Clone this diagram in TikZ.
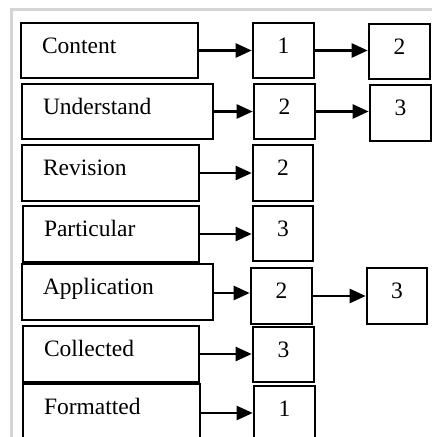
\documentclass[tikz,border=0pt]{standalone}
\usepackage{fontspec}
\setmainfont{Liberation Serif}
\usetikzlibrary{arrows.meta}

\tikzset{
  labelbox/.style={draw, line width=2.6pt, minimum height=55pt, inner sep=0pt,
    font=\fontsize{23.5}{28}\selectfont, text height=0.75em, text depth=0.2em,
    align=left, inner xsep=21pt},
  numbox/.style={draw, line width=2.6pt, minimum width=61pt, minimum height=55pt,
    inner sep=0pt, font=\fontsize{23.5}{28}\selectfont, text height=0.75em, text depth=0.2em},
  link/.style={line width=2.4pt, -{Triangle[length=16pt,width=14pt]}},
  frame/.style={draw=black!17, line width=3pt}
}

\begin{document}
\begin{tikzpicture}[x=1pt,y=1pt]
  \useasboundingbox (0,0) rectangle (432,437);
  \clip (0,0) rectangle (432,437);

  % outer light frame
  \draw[frame] (11,0) -- (11,427) -- (432,427);

  % category boxes (text starts near the left edge)
  \node[labelbox, minimum width=177pt, text width=135pt] (cont) at (109.5,386.5) {Content};
  \node[labelbox, minimum width=191pt, text width=149pt] (und) at (117.5,325.5) {Understand};
  \node[labelbox, minimum width=177pt, text width=135pt, minimum height=56pt] (rev) at (110.5,264) {Revision};
  \node[labelbox, minimum width=176pt, text width=134pt, minimum height=56pt] (part) at (111,203) {Particular};
  \node[labelbox, minimum width=191pt, text width=149pt, minimum height=56pt] (app) at (117.5,145) {Application};
  \node[labelbox, minimum width=176pt, text width=134pt, minimum height=56pt] (coll) at (111,83) {Collected};
  \node[labelbox, minimum width=177pt, text width=135pt, minimum height=56pt] (form) at (111.5,25) {Formatted};

  % score boxes
  \node[numbox] (c1) at (283.5,386.5) {1};
  \node[numbox] (c2) at (399.5,385.5) {2};
  \node[numbox] (u1) at (284.5,325.5) {2};
  \node[numbox, minimum height=56pt] (u2) at (400.5,324) {3};
  \node[numbox, minimum width=60pt, minimum height=56pt] (r1) at (283,264) {2};
  \node[numbox, minimum width=60pt] (p1) at (283,203.5) {3};
  \node[numbox, minimum height=56pt] (a1) at (281.5,141) {2};
  \node[numbox, minimum width=60pt, minimum height=56pt] (a2) at (397,141) {3};
  \node[numbox] (co1) at (283.5,82.5) {3};
  \node[numbox, minimum height=56pt] (f1) at (284.5,23) {1};

  % connectors
  \draw[link] (cont.east) -- (cont.east -| c1.west);
  \draw[link] (c1.east) -- (c1.east -| c2.west);
  \draw[link] (und.east) -- (und.east -| u1.west);
  \draw[link] (u1.east) -- (u1.east -| u2.west);
  \draw[link] (rev.east) -- (rev.east -| r1.west);
  \draw[link] (part.east) -- (part.east -| p1.west);
  \draw[link] ([yshift=-1pt]app.east) -- ([yshift=-1pt]app.east -| a1.west);
  \draw[link] (a1.east) -- (a1.east -| a2.west);
  \draw[link] (coll.east) -- (coll.east -| co1.west);
  \draw[link] ([yshift=-1pt]form.east) -- ([yshift=-1pt]form.east -| f1.west);
\end{tikzpicture}
\end{document}
